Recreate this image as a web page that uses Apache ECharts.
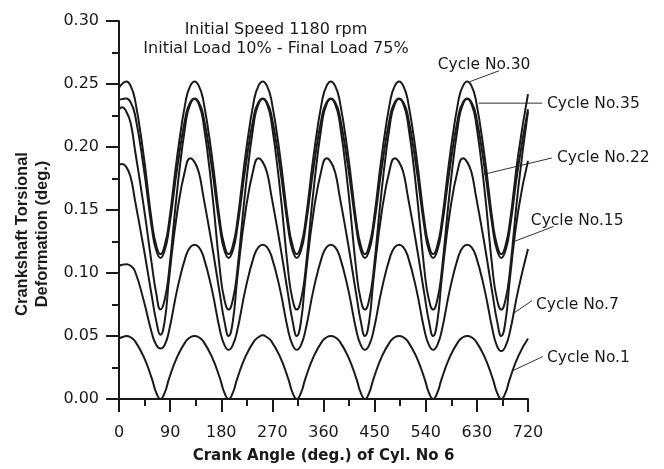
<!DOCTYPE html>
<html>
<head>
<meta charset="utf-8">
<script src="https://cdn.jsdelivr.net/npm/echarts@6/dist/echarts.min.js"></script>
<style>
  html, body { margin: 0; background: #fff; }
  #chart { width: 664px; height: 469px; }
</style>
</head>
<body>
<div id="chart"></div>
<script>
// crank angle samples (deg.)
const angles = [0, 5.5,
  13, 20.5, 28, 43, 58, 65.5, 73, 80.5, 88, 103, 118, 125.5,
  133, 140.5, 148, 163, 178, 185.5, 193, 200.5, 208, 223, 238, 245.5,
  253, 260.5, 268, 283, 298, 305.5, 313, 320.5, 328, 343, 358, 365.5,
  373, 380.5, 388, 403, 418, 425.5, 433, 440.5, 448, 463, 478, 485.5,
  493, 500.5, 508, 523, 538, 545.5, 553, 560.5, 568, 583, 598, 605.5,
  613, 620.5, 628, 643, 658, 665.5, 673, 680.5, 688, 703, 720];

// torsional deformation (deg.)
const cycle1 = [0.048, 0.049,
  0.050, 0.049, 0.046, 0.034, 0.016, 0.005, 0.000, 0.005, 0.016, 0.034, 0.046, 0.049,
  0.050, 0.049, 0.046, 0.034, 0.016, 0.005, 0.000, 0.005, 0.016, 0.034, 0.046, 0.049,
  0.0505, 0.049, 0.046, 0.034, 0.016, 0.005, 0.000, 0.005, 0.016, 0.034, 0.046, 0.049,
  0.050, 0.049, 0.046, 0.034, 0.016, 0.005, 0.000, 0.005, 0.016, 0.034, 0.046, 0.049,
  0.050, 0.049, 0.046, 0.034, 0.016, 0.005, 0.000, 0.005, 0.016, 0.034, 0.046, 0.049,
  0.050, 0.049, 0.046, 0.034, 0.016, 0.005, 0.000, 0.005, 0.016, 0.034, 0.048];
const cycle7 = [0.1055, 0.1065,
  0.107, 0.1057, 0.1016, 0.079, 0.052, 0.043, 0.040, 0.043, 0.054, 0.088, 0.114, 0.1205,
  0.1225, 0.1205, 0.114, 0.088, 0.054, 0.043, 0.039, 0.043, 0.054, 0.088, 0.114, 0.1205,
  0.1225, 0.1205, 0.114, 0.088, 0.054, 0.043, 0.039, 0.043, 0.054, 0.088, 0.114, 0.1205,
  0.1225, 0.1205, 0.114, 0.088, 0.054, 0.043, 0.039, 0.043, 0.054, 0.088, 0.114, 0.1205,
  0.1225, 0.1205, 0.114, 0.088, 0.054, 0.043, 0.039, 0.043, 0.054, 0.088, 0.114, 0.1205,
  0.1225, 0.1205, 0.114, 0.088, 0.054, 0.042, 0.038, 0.042, 0.053, 0.087, 0.119];
const cycle15 = [0.186, 0.1866,
  0.184, 0.176, 0.158, 0.121, 0.081, 0.062, 0.051, 0.062, 0.095, 0.150, 0.185, 0.191,
  0.188, 0.180, 0.162, 0.124, 0.082, 0.062, 0.050, 0.062, 0.095, 0.150, 0.185, 0.191,
  0.188, 0.180, 0.162, 0.124, 0.082, 0.062, 0.050, 0.062, 0.095, 0.150, 0.185, 0.191,
  0.188, 0.180, 0.162, 0.124, 0.082, 0.062, 0.050, 0.062, 0.095, 0.150, 0.185, 0.191,
  0.188, 0.180, 0.162, 0.124, 0.082, 0.062, 0.050, 0.062, 0.095, 0.150, 0.185, 0.191,
  0.188, 0.180, 0.162, 0.124, 0.082, 0.062, 0.050, 0.062, 0.095, 0.150, 0.189];
const cycle22 = [0.230, 0.2315,
  0.228, 0.219, 0.198, 0.1545, 0.106, 0.084, 0.071, 0.079, 0.101, 0.168, 0.221, 0.234,
  0.238, 0.234, 0.221, 0.168, 0.101, 0.079, 0.071, 0.079, 0.101, 0.168, 0.221, 0.234,
  0.238, 0.234, 0.221, 0.168, 0.101, 0.079, 0.071, 0.079, 0.101, 0.168, 0.221, 0.234,
  0.238, 0.234, 0.221, 0.168, 0.101, 0.079, 0.071, 0.079, 0.101, 0.168, 0.221, 0.234,
  0.238, 0.234, 0.221, 0.168, 0.101, 0.079, 0.071, 0.079, 0.101, 0.168, 0.221, 0.234,
  0.238, 0.234, 0.221, 0.168, 0.101, 0.079, 0.071, 0.079, 0.101, 0.168, 0.228];
const cycle35 = [0.2375, 0.238,
  0.2385, 0.2355, 0.226, 0.185, 0.135, 0.118, 0.112, 0.118, 0.135, 0.185, 0.226, 0.2355,
  0.2385, 0.2355, 0.226, 0.185, 0.135, 0.118, 0.112, 0.118, 0.135, 0.185, 0.226, 0.2355,
  0.2385, 0.2355, 0.226, 0.185, 0.135, 0.118, 0.112, 0.118, 0.135, 0.185, 0.226, 0.2355,
  0.2385, 0.2355, 0.226, 0.185, 0.135, 0.118, 0.112, 0.118, 0.135, 0.185, 0.226, 0.2355,
  0.2385, 0.2355, 0.226, 0.185, 0.135, 0.118, 0.112, 0.118, 0.135, 0.185, 0.226, 0.2355,
  0.2385, 0.2355, 0.226, 0.185, 0.135, 0.118, 0.112, 0.118, 0.135, 0.185, 0.230];
const cycle30 = [0.247, 0.250,
  0.252, 0.2485, 0.238, 0.1945, 0.140, 0.122, 0.115, 0.122, 0.140, 0.1945, 0.238, 0.2485,
  0.252, 0.2485, 0.238, 0.1945, 0.140, 0.122, 0.115, 0.122, 0.140, 0.1945, 0.238, 0.2485,
  0.252, 0.2485, 0.238, 0.1945, 0.140, 0.122, 0.115, 0.122, 0.140, 0.1945, 0.238, 0.2485,
  0.252, 0.2485, 0.238, 0.1945, 0.140, 0.122, 0.115, 0.122, 0.140, 0.1945, 0.238, 0.2485,
  0.252, 0.2485, 0.238, 0.1945, 0.140, 0.122, 0.115, 0.122, 0.140, 0.1945, 0.238, 0.2485,
  0.252, 0.2485, 0.238, 0.1945, 0.140, 0.122, 0.115, 0.122, 0.140, 0.1945, 0.242];

const seriesNames = ['Cycle No.1', 'Cycle No.7', 'Cycle No.15', 'Cycle No.22', 'Cycle No.35', 'Cycle No.30'];
const seriesValues = [cycle1, cycle7, cycle15, cycle22, cycle35, cycle30];

// callouts in data units: leader line from the curve, text anchor (left, middle)
const callouts = [
  { text: 'Cycle No.30', from: [618, 0.2519], to: [669, 0.2605], at: [561, 0.2652] },
  { text: 'Cycle No.35', from: [633, 0.2348], to: [745, 0.2348], at: [753.5, 0.2341] },
  { text: 'Cycle No.22', from: [642, 0.1783], to: [762, 0.1913], at: [771, 0.1913] },
  { text: 'Cycle No.15', from: [696.6, 0.1252], to: [765, 0.1369], at: [725, 0.1415] },
  { text: 'Cycle No.7', from: [693.6, 0.0677], to: [727, 0.078], at: [734, 0.0746] },
  { text: 'Cycle No.1', from: [694.8, 0.0228], to: [746, 0.0337], at: [753.5, 0.0329] }
];

const ink = '#1a1a1a';
const sans = 'DejaVu Sans';

const chart = echarts.init(document.getElementById('chart'), null, { renderer: 'canvas' });

const option = {
  animation: false,
  backgroundColor: '#fff',
  title: {
    text: 'Initial Speed 1180 rpm\nInitial Load 10% - Final Load 75%',
    left: 276,
    top: 20,
    padding: 0,
    textAlign: 'center',
    textStyle: { fontFamily: sans, fontSize: 16, fontWeight: 'normal', color: ink, lineHeight: 19.5 }
  },
  grid: { left: 119, right: 136, top: 21, bottom: 63 },
  xAxis: {
    type: 'value',
    min: 0,
    max: 720,
    interval: 90,
    name: 'Crank Angle (deg.) of Cyl. No 6',
    nameLocation: 'middle',
    nameGap: 50,
    nameTextStyle: { fontFamily: sans, fontSize: 15, fontWeight: 'bold', color: ink },
    axisLine: { lineStyle: { color: ink, width: 2 } },
    axisTick: { length: 13, lineStyle: { color: ink, width: 2 } },
    minorTick: { show: true, splitNumber: 2, length: 7, lineStyle: { color: ink, width: 2 } },
    axisLabel: { fontFamily: sans, fontSize: 16, color: ink, margin: 26 },
    splitLine: { show: false }
  },
  yAxis: {
    type: 'value',
    min: 0,
    max: 0.3,
    interval: 0.05,
    name: 'Crankshaft Torsional\nDeformation (deg.)',
    nameLocation: 'middle',
    nameGap: 67,
    nameTextStyle: {
      fontFamily: 'Liberation Sans', fontSize: 16.5, fontWeight: 'bold', color: ink,
      lineHeight: 20, padding: [0, 48, 0, 0]
    },
    axisLine: { show: true, lineStyle: { color: ink, width: 2 } },
    axisTick: { show: true, length: 13, lineStyle: { color: ink, width: 2 } },
    minorTick: { show: true, splitNumber: 2, length: 7, lineStyle: { color: ink, width: 2 } },
    axisLabel: { fontFamily: sans, fontSize: 16, color: ink, margin: 20, formatter: v => v.toFixed(2) },
    splitLine: { show: false }
  },
  series: seriesNames.map((name, i) => ({
    name: name,
    type: 'line',
    smooth: true,
    symbol: 'none',
    lineStyle: { color: ink, width: 2 },
    data: angles.map((a, j) => [a, seriesValues[i][j]])
  }))
};

chart.setOption(option);

const graphics = [];
callouts.forEach(c => {
  const p1 = chart.convertToPixel({ gridIndex: 0 }, c.from);
  const p2 = chart.convertToPixel({ gridIndex: 0 }, c.to);
  const pt = chart.convertToPixel({ gridIndex: 0 }, c.at);
  graphics.push({
    type: 'line',
    shape: { x1: p1[0], y1: p1[1], x2: p2[0], y2: p2[1] },
    style: { stroke: '#333', lineWidth: 1 },
    silent: true
  });
  graphics.push({
    type: 'text',
    x: pt[0],
    y: pt[1],
    style: { text: c.text, fontFamily: sans, fontSize: 15.5, fill: ink, align: 'left', verticalAlign: 'middle' },
    silent: true
  });
});
chart.setOption({ graphic: graphics });
</script>
</body>
</html>
